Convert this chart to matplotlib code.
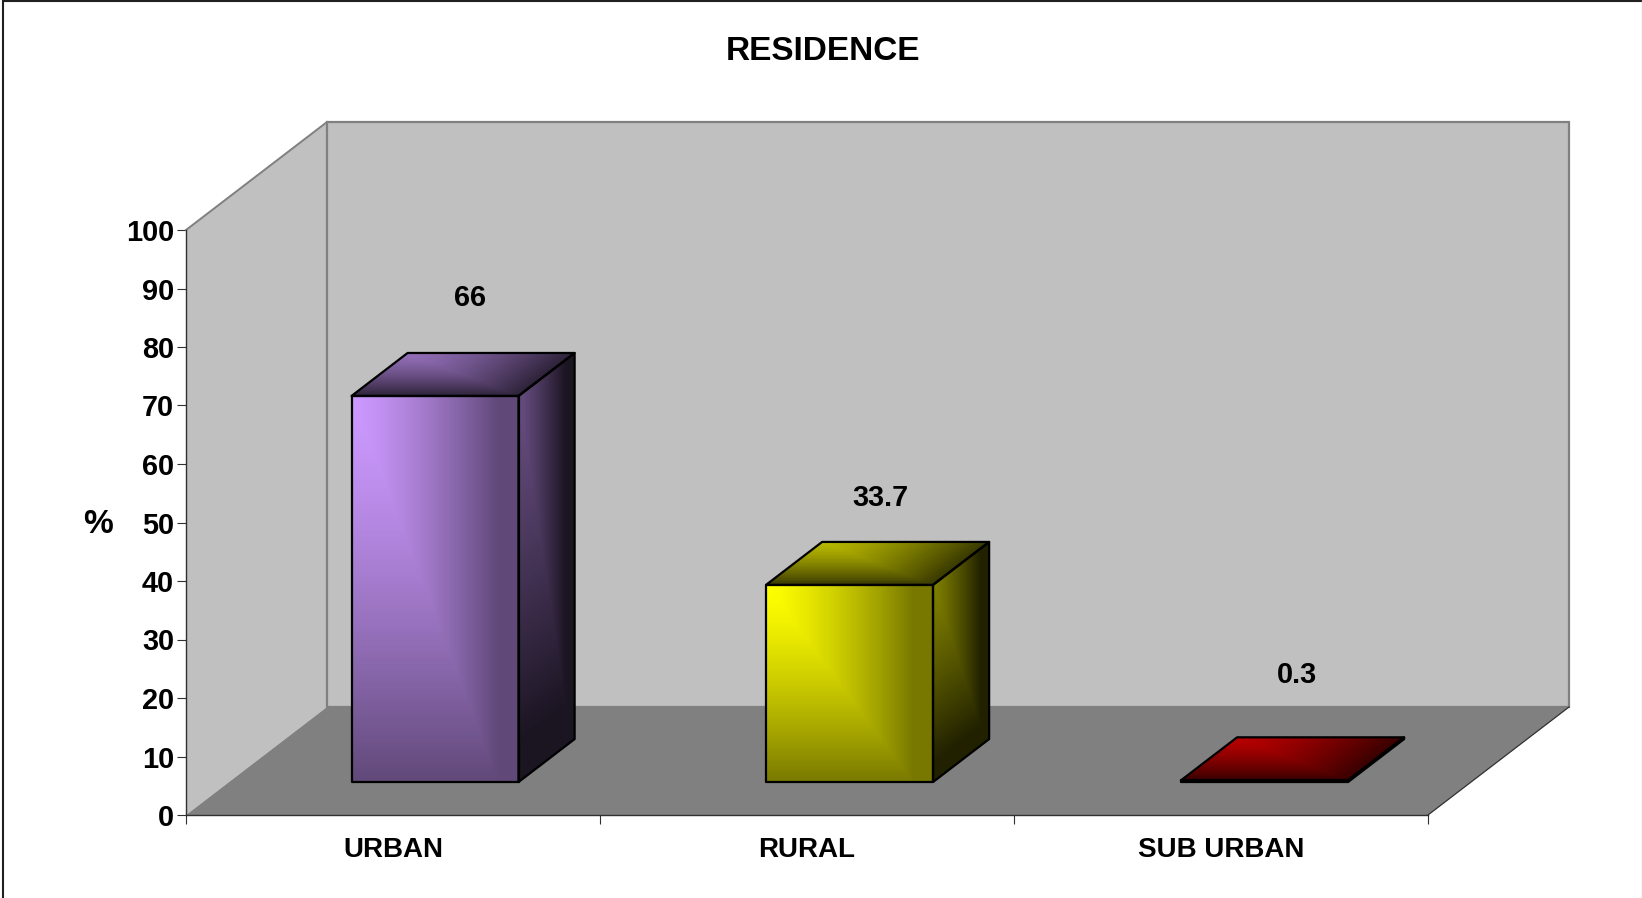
from matplotlib import pyplot as plt
from matplotlib.colors import to_rgb
from matplotlib.lines import Line2D
from matplotlib.patches import Polygon, Rectangle
import numpy as np

categories = ["URBAN", "RURAL", "SUB URBAN"]
values = [66, 33.7, 0.3]
value_labels = ["66", "33.7", "0.3"]
bar_colors = ["#CC99FF", "#FFFF00", "#FF0000"]
y_ticks = [0, 10, 20, 30, 40, 50, 60, 70, 80, 90, 100]

W, H = 1642, 898
# 3d look : a point at depth d (0 front, 1 back) is shifted by d*(DX,DY)
DX = 141 / 414
DY = 108 / 5.85
BAR_W = 167 / 414
BAR_SHIFT = [-1 / 414, -0.5 / 414, 0.5 / 414]
DEPTH_0 = 0.305
DEPTH_1 = 0.703
LABEL_DX = [0.085, 0.075, 0.079]
LABEL_DY = [16.74, 14.84, 18.0]

plt.rcParams['font.family'] = ['Liberation Sans', 'DejaVu Sans']
plt.rcParams['font.weight'] = 'bold'


def pt(x, y, d):
    return (x + d * DX, y + d * DY)


def face(ax, p0, p1, p3, rgb, f_start, f_end, ku, kv, gamma=1.0, line=1.6):
    # p0 = shaded corner, p1 = along u, p3 = along v
    n = 160
    u = np.linspace(0, 1, n + 1)
    v = np.linspace(0, 1, n + 1)
    U, V = np.meshgrid(u, v)
    X = p0[0] + U * (p1[0] - p0[0]) + V * (p3[0] - p0[0])
    Y = p0[1] + U * (p1[1] - p0[1]) + V * (p3[1] - p0[1])
    uc = (u[:-1] + u[1:]) / 2
    vc = (v[:-1] + v[1:]) / 2
    Uc, Vc = np.meshgrid(uc, vc)
    t = np.clip(np.maximum(Uc / ku, Vc / kv), 0, 1) ** gamma
    f = f_start + (f_end - f_start) * t
    C = np.dstack([f * rgb[0], f * rgb[1], f * rgb[2]])
    ax.pcolormesh(X, Y, C, shading='flat', antialiased=False, clip_on=False, zorder=3)
    p2 = (p1[0] + p3[0] - p0[0], p1[1] + p3[1] - p0[1])
    ax.add_patch(Polygon([p0, p1, p2, p3], closed=True, fill=False, ec='black',
                         lw=line, clip_on=False, zorder=4, joinstyle='round'))


fig = plt.figure(figsize=(W / 100, H / 100), dpi=100, facecolor='white')
ax = fig.add_axes([186 / W, 1 - 815 / H, 1242 / W, 585 / H])
ax.patch.set_visible(False)

# walls and floor
ax.add_patch(Polygon([pt(0, 0, 0), pt(0, 0, 1), pt(0, 100, 1), pt(0, 100, 0)],
                     fc='#C0C0C0', ec='none', clip_on=False, zorder=1))
ax.add_patch(Polygon([pt(0, 0, 1), pt(3, 0, 1), pt(3, 100, 1), pt(0, 100, 1)],
                     fc='#C0C0C0', ec='#808080', lw=1.6, clip_on=False, zorder=1))
ax.add_patch(Polygon([pt(0, 0, 0), pt(3, 0, 0), pt(3, 0, 1), pt(0, 0, 1)],
                     fc='#808080', ec='none', clip_on=False, zorder=2))
ax.plot(*zip(pt(0, 100, 0), pt(0, 100, 1)), color='#808080', lw=1.4, clip_on=False, zorder=2)
ax.plot(*zip(pt(3, 0, 0), pt(3, 0, 1)), color='#303030', lw=0.9, clip_on=False, zorder=2)

# bars
for i, val in enumerate(values):
    rgb = to_rgb(bar_colors[i])
    x0 = i + 0.5 - BAR_W / 2 + BAR_SHIFT[i]
    x1 = x0 + BAR_W
    # side face, lit at the front top corner
    face(ax, pt(x1, val, DEPTH_0), pt(x1, val, DEPTH_1), pt(x1, 0, DEPTH_0),
         rgb, 0.5, 0.13, 0.85, 0.9, gamma=1.2)
    # top face, lit at the back left corner
    face(ax, pt(x0, val, DEPTH_1), pt(x1, val, DEPTH_1), pt(x0, val, DEPTH_0),
         rgb, 0.72, 0.22, 1.0, 1.0, gamma=1.35)
    # front face
    face(ax, pt(x0, val, DEPTH_0), pt(x1, val, DEPTH_0), pt(x0, 0, DEPTH_0),
         rgb, 1.0, 0.47, 0.88, 1.0, gamma=1.35)
    ax.text(x0 + BAR_W / 2 + DEPTH_0 * DX + LABEL_DX[i], val + DEPTH_0 * DY + LABEL_DY[i],
            value_labels[i], ha='center', va='center', fontsize=20.8, fontweight='bold',
            color='black', zorder=5)

ax.set_xlim(0, 3)
ax.set_ylim(0, 100)

for s in ['top', 'right']:
    ax.spines[s].set_visible(False)
for s in ['left', 'bottom']:
    ax.spines[s].set_color('#303030')
    ax.spines[s].set_linewidth(1.0)
    ax.spines[s].set_zorder(2.5)

ax.set_yticks(y_ticks)
ax.set_xticks([0, 1, 2, 3])
ax.set_xticklabels([])
ax.set_xticks([0.5, 1.5, 2.5], minor=True)
ax.set_xticklabels(categories, minor=True)
ax.tick_params(axis='x', which='major', length=6.5, width=0.8, color='#303030')
ax.tick_params(axis='x', which='minor', length=0, pad=15.5, labelsize=20)
ax.tick_params(axis='y', length=6.5, width=0.8, color='#303030', pad=2.2, labelsize=20.8)
for lab in ax.get_yticklabels() + ax.get_xticklabels(minor=True):
    lab.set_fontweight('bold')
for lab in ax.get_yticklabels():
    lab.set_verticalalignment('center_baseline')

ax.set_ylabel('%', rotation=0, fontsize=24, fontweight='bold', ha='center', va='center')
ax.yaxis.set_label_coords(-0.0709, 0.4973)

fig.text(823 / W, 1 - 52 / H, 'RESIDENCE', ha='center', va='center', fontsize=24,
         fontweight='bold', color='black')

# chart frame
fig.add_artist(Rectangle((3 / W, -0.01), 1.1, 1.01 - 0.5 / H, transform=fig.transFigure,
                         fill=False, ec='#202020', lw=1.5))
fig.add_artist(Line2D([1 - 0.5 / W, 1 - 0.5 / W], [0, 1], transform=fig.transFigure,
                      color='#C0C0C0', lw=0.9))

fig.savefig('out.png', dpi=100)
